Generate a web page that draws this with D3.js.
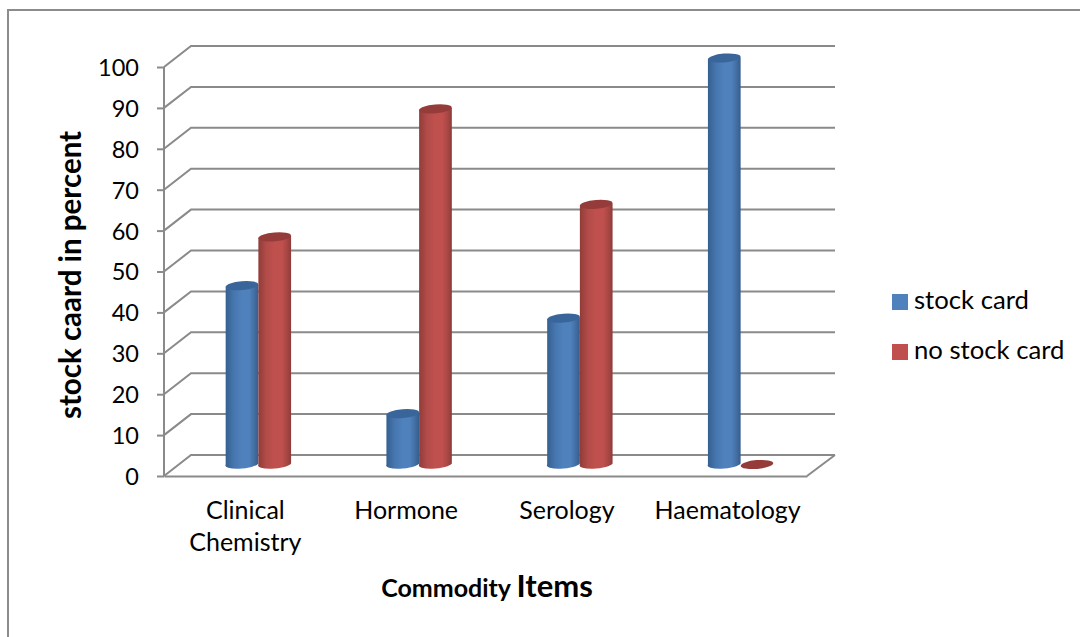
<!DOCTYPE html>
<html><head><meta charset="utf-8">
<script src="https://cdnjs.cloudflare.com/ajax/libs/d3/7.8.5/d3.min.js"></script>
<style>html,body{margin:0;padding:0;background:#fff}svg{display:block}text{font-family:Lato,"Open Sans",sans-serif;fill:#000}</style>
</head><body><script>
const categories=["Clinical Chemistry","Hormone","Serology","Haematology"];
const stockCard=[44,12.5,36,100];
const noStockCard=[56,87.5,64,0];
const yTicks=[0,10,20,30,40,50,60,70,80,90,100];
const seriesNames=["stock card","no stock card"];
const W=1080,H=637;
const svg=d3.select("body").append("svg").attr("width",W).attr("height",H);
svg.append("path").attr("d","M8,637V10H1080").attr("fill","none").attr("stroke","#8c8c8c").attr("stroke-width",2);
const y=d3.scaleLinear().domain([0,100]).range([476,67]);
const x=d3.scaleBand().domain(categories).range([164,807]);
const dx=27,dy=-21,grey="#8a8a8a";
const bar=d3.scaleLinear().domain([0,100]).range([464.5,58]);
const defs=svg.append("defs");
function grad(id,stops){const g=defs.append("linearGradient").attr("id",id);
 stops.forEach(s=>g.append("stop").attr("offset",s[0]).attr("stop-color",s[1]));}
grad("gb",[[0,"#345f8f"],[.25,"#4676ae"],[.5,"#4f81bd"],[.72,"#4f81bd"],[.9,"#406b9e"],[1,"#365d8c"]]);
grad("gr",[[0,"#8f3b39"],[.25,"#b24c49"],[.5,"#c0504d"],[.72,"#c0504d"],[.9,"#a34543"],[1,"#8c3b39"]]);
const g=svg.append("g").attr("fill","none").attr("stroke",grey).attr("stroke-width",2);
yTicks.forEach(t=>{
  g.append("path").attr("d",`M${x.range()[0]},${y(t)}L${x.range()[0]+dx},${y(t)+dy}H${x.range()[1]+dx+1}`);
});
g.append("path").attr("d",`M${x.range()[1]},${y(0)}L${x.range()[1]+dx+1},${y(0)+dy}`);
const ay=d3.axisLeft(y).tickValues(yTicks).tickSize(7).tickPadding(5);
const ag=svg.append("g").attr("transform",`translate(${x.range()[0]},0)`).call(ay);
const ax=svg.append("g").attr("transform",`translate(0,${y(0)})`).call(d3.axisBottom(x).tickSize(0).tickFormat(""));
[ag,ax].forEach(s=>{s.selectAll("line,path").attr("stroke",grey).attr("stroke-width",2);s.select(".domain").attr("fill","none");});
ag.select(".domain").attr("d",`M0,${y(100)}V${y(0)}`);
ag.selectAll("text").attr("font-size",23.5).attr("x",-25).attr("dy","0.36em").style("fill","#000");
ax.selectAll("text").remove();
const bw=32.7;
function cyl(cx,v,fill,top){
  const yTop=bar(v),yBase=bar(0),rx=bw/2,ry=4.4;
  const s=svg.append("g");
  if(v>0){
   s.append("path").attr("fill",`url(#${fill})`)
    .attr("d",`M${cx-rx},${yTop+.8}V${yBase}A${rx},${ry} -5 0 0 ${cx+rx},${yBase-1}V${yTop-.8}Z`);
  }
  s.append("ellipse").attr("cx",cx).attr("cy",yTop).attr("rx",rx).attr("ry",ry)
   .attr("transform",`rotate(-5 ${cx} ${yTop})`).attr("fill",top);
}
categories.forEach((c,i)=>{
  const m=x(c)+x.bandwidth()/2+14;
  cyl(m-bw/2,stockCard[i],"gb","#3a659a");
  cyl(m+bw/2,noStockCard[i],"gr","#953c3a");
});
const labelLines={"Clinical Chemistry":["Clinical","Chemistry"]};
categories.forEach(c=>{
  const lines=labelLines[c]||[c];
  const t=svg.append("text").attr("text-anchor","middle").attr("font-size",25);
  lines.forEach((l,i)=>t.append("tspan").attr("x",x(c)+x.bandwidth()/2+1).attr("y",519+i*32).text(l));
});
svg.append("text").attr("transform","translate(81,275) rotate(-90)").attr("text-anchor","middle")
 .attr("font-size",29.5).attr("font-weight",700).text("stock caard in percent");
const tt=svg.append("text").attr("x",487).attr("y",597).attr("text-anchor","middle").attr("font-weight",700);
tt.append("tspan").attr("font-size",25).text("Commodity ");
tt.append("tspan").attr("font-size",31).text("Items");
const leg=[["#4f81bd",290],["#c0504d",340]];
seriesNames.forEach((n,i)=>{
  svg.append("rect").attr("x",892).attr("y",leg[i][1]+4).attr("width",16).attr("height",16).attr("fill",leg[i][0]);
  svg.append("text").attr("x",914).attr("y",leg[i][1]+19).attr("font-size",25.7).text(n);
});
</script></body></html>
